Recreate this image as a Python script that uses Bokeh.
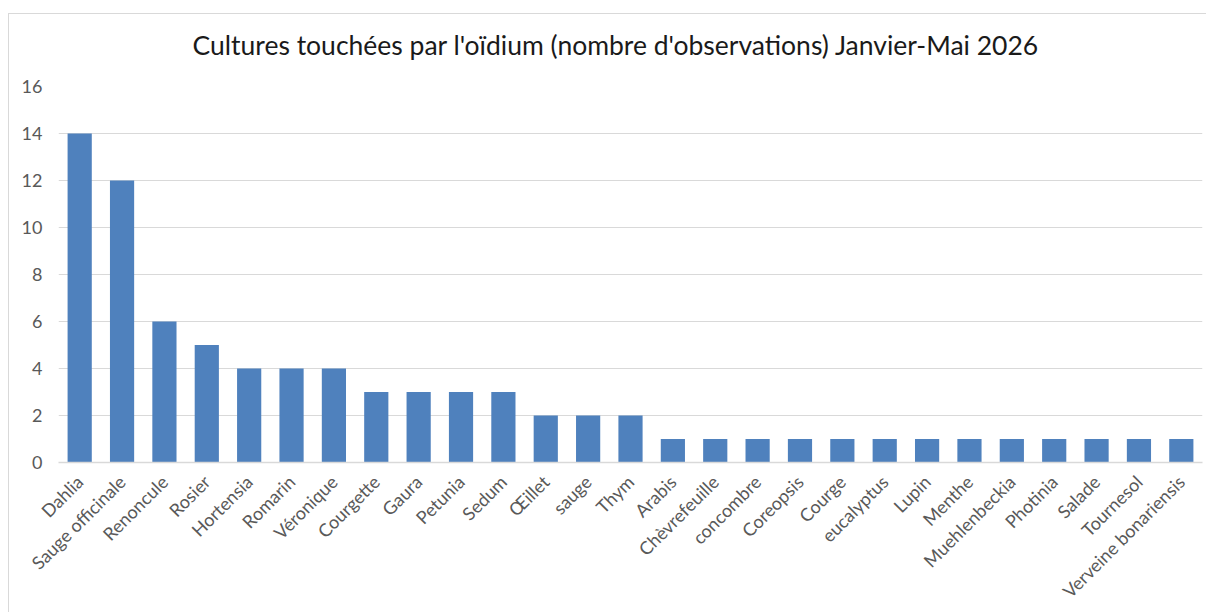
import math
from bokeh.plotting import figure
from bokeh.models import ColumnDataSource, Title, FixedTicker
from bokeh.embed import file_html
from bokeh.resources import INLINE

cultures = ["Dahlia", "Sauge officinale", "Renoncule", "Rosier", "Hortensia", "Romarin",
            "Véronique", "Courgette", "Gaura", "Petunia", "Sedum", "Œillet", "sauge", "Thym",
            "Arabis", "Chèvrefeuille", "concombre", "Coreopsis", "Courge", "eucalyptus",
            "Lupin", "Menthe", "Muehlenbeckia", "Photinia", "Salade", "Tournesol",
            "Verveine bonariensis"]
observations = [14, 12, 6, 5, 4, 4, 4, 3, 3, 3, 3, 2, 2, 2,
                1, 1, 1, 1, 1, 1, 1, 1, 1, 1, 1, 1, 1]
y_ticks = [0, 2, 4, 6, 8, 10, 12, 14, 16]
title_text = "Cultures touchées par l'oïdium (nombre d'observations) Janvier-Mai 2026"

FONT = "Lato"

src = ColumnDataSource(data=dict(cultures=cultures, observations=observations))

p = figure(x_range=cultures, y_range=(0, 16), width=1206, height=612,
           output_backend="svg", toolbar_location=None,
           min_border_left=58, min_border_right=4, min_border_top=86, min_border_bottom=149)
# chart-area border (top and left edges) drawn behind a transparent canvas border
p.styles = {
    "background": ("linear-gradient(#d9d9d9, #d9d9d9) 8px 13px / 100% 1px no-repeat, "
                   "linear-gradient(#d9d9d9, #d9d9d9) 8px 13px / 1px 100% no-repeat, white"),
    "overflow": "hidden",
}

p.vbar(x="cultures", top="observations", width=0.571, source=src,
       fill_color="#4F81BD", line_color=None)

t = Title(text=title_text, align="left", text_font=FONT, text_font_size="26.5px",
          text_font_style="normal", text_color="#1a1a1a", standoff=52, offset=134)
p.add_layout(t, "above")

p.outline_line_color = None
p.background_fill_color = "white"
p.border_fill_color = None

p.xgrid.grid_line_color = None
p.ygrid.grid_line_color = "#d9d9d9"
p.ygrid.grid_line_width = 1
p.yaxis.ticker = FixedTicker(ticks=y_ticks)

p.yaxis.axis_line_color = None
p.yaxis.major_tick_line_color = None
p.yaxis.minor_tick_line_color = None
p.yaxis.major_label_text_font = FONT
p.yaxis.major_label_text_font_size = "18px"
p.yaxis.major_label_text_color = "#595959"
p.yaxis.major_label_standoff = 10

p.xaxis.axis_line_color = "#d9d9d9"
p.xaxis.axis_line_width = 1.5
p.xaxis.major_tick_line_color = None
p.xaxis.minor_tick_line_color = None
p.xaxis.major_label_orientation = math.pi / 4
p.xaxis.major_label_text_font = FONT
p.xaxis.major_label_text_font_size = "18px"
p.xaxis.major_label_text_color = "#595959"
p.xaxis.major_label_standoff = 10

p.x_range.range_padding = 0

open("out.html", "w").write(file_html(p, INLINE))
